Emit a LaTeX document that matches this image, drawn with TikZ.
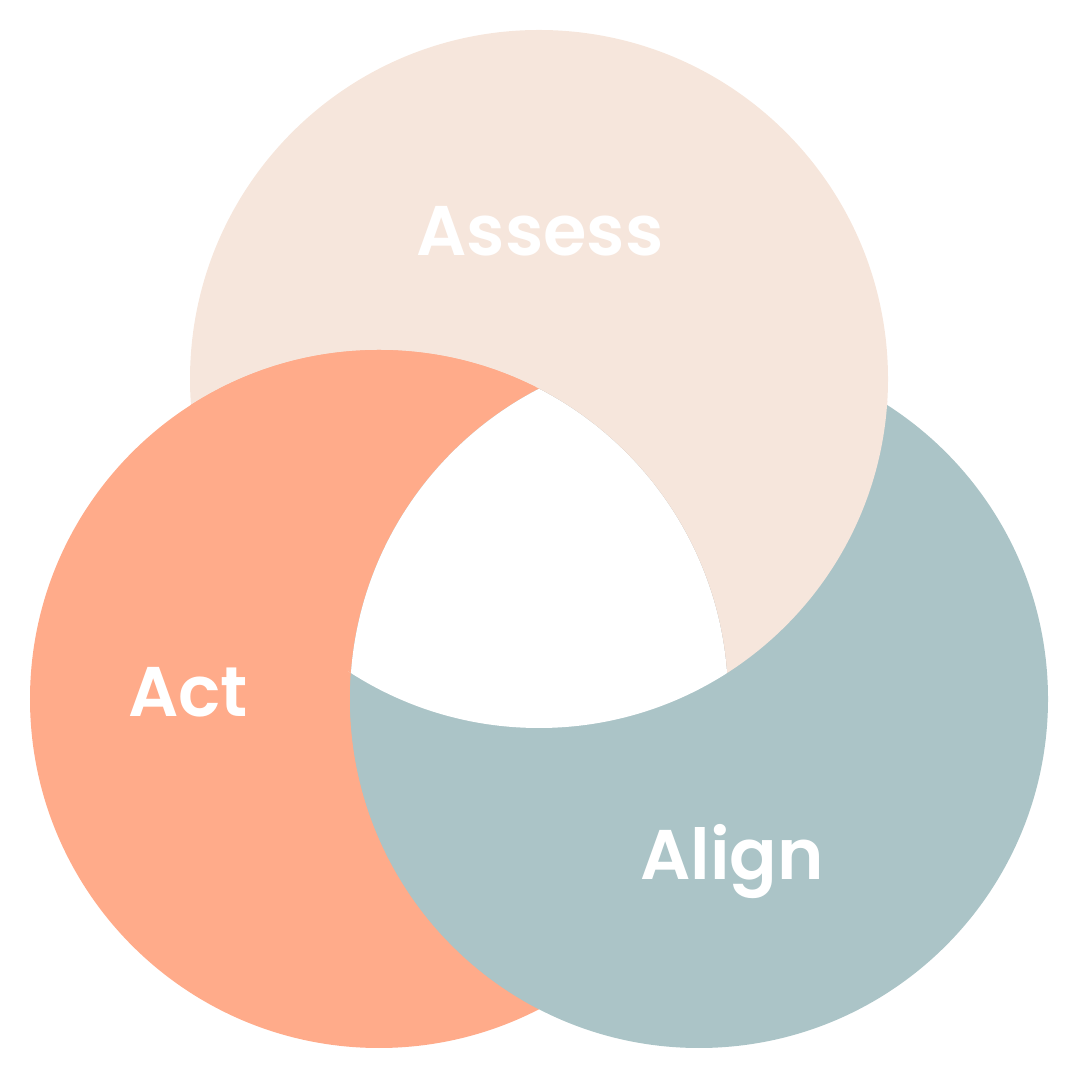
\documentclass[tikz,border=0pt]{standalone}
\usepackage{fontspec}
\setmainfont{Poppins}[BoldFont={Poppins SemiBold}]
\definecolor{assesscol}{HTML}{F6E6DC}
\definecolor{actcol}{HTML}{FFAB8A}
\definecolor{aligncol}{HTML}{ABC4C7}
\begin{document}
\begin{tikzpicture}[every node/.style={font=\fontsize{20}{24}\selectfont\bfseries, text=white}]

  \useasboundingbox (0,0) rectangle (10.8,10.8);

  % --- CIRCLES ---
  \def\rad{3.49}
  \coordinate (cassess) at (5.39, 7.01);
  \coordinate (cact) at (3.79, 3.81);
  \coordinate (calign) at (6.99, 3.81);

  \fill[assesscol] (cassess) circle (\rad);
  \fill[actcol] (cact) circle (\rad);
  \fill[aligncol] (calign) circle (\rad);

  % Assess over Align (clip a bit wider, no seam)
  \begin{scope}
    \clip (calign) circle (\rad+0.03);
    \fill[assesscol] (cassess) circle (\rad);
  \end{scope}
  % Act over Assess
  \begin{scope}
    \clip (cassess) circle (\rad);
    \fill[actcol] (cact) circle (\rad);
  \end{scope}
  % Align over Act
  \begin{scope}
    \clip (cact) circle (\rad);
    \fill[aligncol] (calign) circle (\rad);
  \end{scope}
  % Middle
  \begin{scope}
    \clip (cact) circle (\rad);
    \clip (calign) circle (\rad);
    \fill[white] (cassess) circle (\rad);
  \end{scope}

  % --- LABELS ---
  \node[anchor=base] (assess) at (5.40, 8.24) {Assess};
  \node[anchor=base] (act) at (1.88, 3.63) {Act};
  \node[anchor=base] (align) at (7.32, 2.00) {Align};

\end{tikzpicture}
\end{document}
